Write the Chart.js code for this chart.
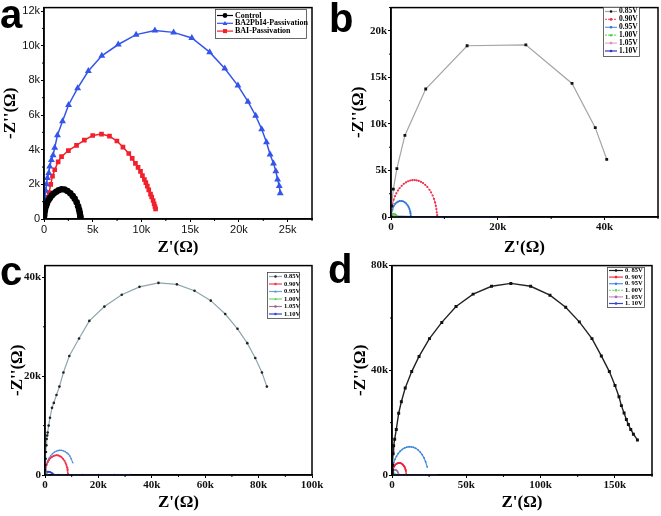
<!DOCTYPE html>
<html>
<head>
<meta charset="utf-8">
<script src="https://cdn.jsdelivr.net/npm/chart.js@4/dist/chart.umd.min.js"></script>
<style>
  body { margin: 0; background: #fff; width: 661px; height: 516px; position: relative; overflow: hidden; }
  canvas { position: absolute; }
  .tag { position: absolute; font: bold 40px "Liberation Sans", Arial, sans-serif; line-height: 40px; color: #000; z-index: 2; }
</style>
</head>
<body>
<canvas id="pa" width="330" height="258" style="left:0;top:0"></canvas>
<canvas id="pb" width="331" height="258" style="left:330px;top:0"></canvas>
<canvas id="pc" width="330" height="258" style="left:0;top:258px"></canvas>
<canvas id="pd" width="331" height="258" style="left:330px;top:258px"></canvas>
<div class="tag" style="left:0;top:-6px">a</div>
<div class="tag" style="left:329px;top:-2px">b</div>
<div class="tag" style="left:0;top:251px">c</div>
<div class="tag" style="left:328px;top:249px">d</div>
<script>
// all values in kΩ
const voltages = ['0.85V', '0.90V', '0.95V', '1.00V', '1.05V', '1.10V'];
const voltagesD = ['0. 85V', '0. 90V', '0. 95V', '1. 00V', '1. 05V', '1. 10V'];

// panel a
const aControlX = [0, 0.02, 0.05, 0.1, 0.2, 0.3, 0.45, 0.6, 0.8, 1.0, 1.25, 1.5, 1.8, 2.1, 2.4, 2.7, 2.95, 3.15, 3.35, 3.5, 3.6, 3.67, 3.72, 3.75];
const aControlY = [0, 0.2, 0.38, 0.53, 0.74, 0.9, 1.08, 1.21, 1.36, 1.47, 1.57, 1.66, 1.72, 1.7, 1.62, 1.48, 1.33, 1.17, 0.96, 0.74, 0.53, 0.36, 0.18, 0.05];
const aBA2X = [0, 0.02, 0.04, 0.07, 0.1, 0.18, 0.25, 0.35, 0.49, 0.59, 0.76, 0.93, 1.1, 1.38, 1.9, 2.52, 3.45, 4.55, 5.93, 7.62, 9.45, 11.38, 13.3, 15.17, 17.0, 18.55, 19.9, 20.93, 21.72, 22.34, 22.83, 23.2, 23.55, 23.79, 23.97, 24.14, 24.24];
const aBA2Y = [0, 0.1, 0.5, 0.88, 1.25, 1.63, 2.0, 2.37, 2.65, 3.03, 3.4, 3.68, 4.11, 4.84, 5.64, 6.58, 7.55, 8.54, 9.42, 10.07, 10.64, 10.88, 10.77, 10.45, 9.63, 8.69, 7.7, 6.77, 5.96, 5.18, 4.43, 3.72, 3.21, 2.75, 2.28, 1.91, 1.48];
const aBAIX = [0, 0.03, 0.08, 0.15, 0.25, 0.38, 0.52, 0.69, 0.87, 1.1, 1.45, 1.8, 2.5, 3.34, 4.14, 5.0, 5.9, 6.72, 7.48, 8.1, 8.7, 9.05, 9.38, 9.65, 9.9, 10.1, 10.3, 10.45, 10.6, 10.75, 10.93, 11.05, 11.2, 11.3, 11.38, 11.45];
const aBAIY = [0, 0.25, 0.5, 0.75, 1.0, 1.25, 1.53, 2.0, 2.47, 2.84, 3.3, 3.6, 3.95, 4.25, 4.55, 4.82, 4.9, 4.78, 4.5, 4.15, 3.78, 3.5, 3.21, 2.98, 2.75, 2.5, 2.28, 2.1, 1.9, 1.68, 1.44, 1.27, 1.07, 0.88, 0.72, 0.58];

// panel b
const b085X = [0, 0.1, 0.44, 1.1, 2.6, 6.5, 14.25, 25.25, 33.9, 38.25, 40.4];
const b085Y = [0, 1.2, 3.0, 5.2, 8.77, 13.75, 18.4, 18.5, 14.35, 9.6, 6.2];
const b090X = [0, 0.05, 0.15, 0.3, 0.5, 0.75, 1.0, 1.3, 1.6, 2.0, 2.4, 2.8, 3.2, 3.6, 4.0, 4.4, 4.8, 5.2, 5.6, 6.0, 6.4, 6.8, 7.2, 7.5, 7.8, 8.05, 8.25, 8.4, 8.5, 8.58, 8.65];
const b090Y = [0, 0.6, 1.04, 1.46, 1.86, 2.24, 2.54, 2.84, 3.09, 3.35, 3.56, 3.72, 3.84, 3.92, 3.96, 3.97, 3.94, 3.88, 3.78, 3.64, 3.46, 3.23, 2.93, 2.65, 2.31, 1.94, 1.57, 1.2, 0.85, 0.5, 0.2];
const b095X = [0, 0.03, 0.1, 0.2, 0.35, 0.55, 0.8, 1.05, 1.35, 1.65, 1.95, 2.25, 2.55, 2.85, 3.1, 3.3, 3.45, 3.57, 3.65, 3.7];
const b095Y = [0, 0.31, 0.56, 0.78, 1.01, 1.22, 1.42, 1.55, 1.66, 1.71, 1.72, 1.68, 1.59, 1.45, 1.27, 1.07, 0.86, 0.63, 0.4, 0.15];
const b100X = [0, 0.05, 0.15, 0.3, 0.5, 0.7, 0.9, 1.05, 1.15];
const b100Y = [0, 0.15, 0.25, 0.33, 0.36, 0.33, 0.25, 0.15, 0.05];
const b105X = [0, 0.05, 0.15, 0.3, 0.45, 0.6, 0.7];
const b105Y = [0, 0.1, 0.16, 0.18, 0.15, 0.08, 0.02];
const b110X = [0, 0.2, 0.5, 1, 2, 4, 7, 11, 16, 22];
const b110Y = [0, 0.06, 0.08, 0.07, 0.06, 0.05, 0.04, 0.04, 0.03, 0.03];

// panel c
const c085X = [0, 0.06, 0.125, 0.25, 0.37, 0.5, 0.62, 0.8, 1.0, 1.37, 1.87, 2.62, 3.3, 4.3, 5.4, 6.9, 9.1, 12.75, 16.6, 22.25, 28.75, 35.4, 42.5, 49.4, 56, 62.1, 67.5, 72.1, 75.75, 78.75, 81.25, 83.1];
const c085Y = [0, 1.0, 2.0, 3.3, 4.65, 6.0, 7.3, 8.0, 8.6, 10.0, 11.6, 13.6, 14.6, 16.2, 17.9, 20.75, 24.1, 27.65, 31.2, 34.1, 36.5, 38.1, 38.9, 38.6, 37.3, 35.3, 32.6, 29.6, 26.7, 23.7, 20.75, 17.9];
const c090X = [0, 0.1, 0.3, 0.6, 1.0, 1.5, 2.0, 2.6, 3.2, 3.8, 4.4, 5.0, 5.6, 6.2, 6.8, 7.3, 7.7, 8.0, 8.25, 8.45, 8.6];
const c090Y = [0, 0.86, 1.47, 2.04, 2.56, 3.03, 3.38, 3.67, 3.87, 3.97, 4.0, 3.95, 3.81, 3.59, 3.25, 2.87, 2.45, 2.04, 1.58, 1.05, 0.3];
const c095X = [0, 0.1, 0.3, 0.6, 1.0, 1.5, 2.1, 2.8, 3.5, 4.2, 4.9, 5.6, 6.3, 7.0, 7.6, 8.2, 8.8, 9.3, 9.8, 10.4];
const c095Y = [0, 0.93, 1.6, 2.23, 2.83, 3.38, 3.88, 4.3, 4.61, 4.82, 4.95, 5.0, 4.97, 4.87, 4.71, 4.49, 4.2, 3.85, 3.3, 2.5];
const c100X = [0, 0.1, 0.25, 0.45, 0.65, 0.85, 1.0];
const c100Y = [0, 0.2, 0.32, 0.35, 0.3, 0.18, 0.05];
const c105X = [0, 0.08, 0.2, 0.35, 0.5, 0.6];
const c105Y = [0, 0.12, 0.18, 0.17, 0.1, 0.03];
const c110X = [0, 0.1, 0.3, 0.6, 1.0, 1.4, 1.9, 2.4, 2.8, 3.2, 5, 9, 14, 20, 26, 32];
const c110Y = [0, 0.3, 0.5, 0.62, 0.66, 0.66, 0.6, 0.45, 0.3, 0.1, 0.06, 0.05, 0.05, 0.05, 0.05, 0.05];

// panel d
const d085X = [0, 0.1, 0.22, 0.45, 0.7, 1.1, 1.8, 2.9, 4.5, 6.3, 8.9, 13.26, 18.2, 25.2, 33.5, 43.1, 54.6, 67, 80, 93.3, 106.3, 116.9, 126.1, 134.6, 140.9, 146.3, 150.1, 152.8, 154.4, 156.2, 157.75, 159.1, 160.7, 162.5, 165.2];
const d085Y = [0, 0.8, 1.9, 3.7, 8.1, 11.2, 13.7, 17.4, 23.6, 28, 33.2, 39.5, 45.3, 52.1, 58.3, 64.4, 69.1, 72.1, 73.2, 72.1, 68.7, 64.1, 58.5, 52.1, 45.5, 39.5, 34.2, 29.9, 26.5, 23.7, 21.2, 19.3, 17.4, 15.6, 13.4];
const d090X = [0, 0.1, 0.3, 0.6, 1.0, 1.5, 2.1, 2.8, 3.5, 4.2, 4.9, 5.6, 6.3, 7.0, 7.6, 8.1, 8.6, 9.0, 9.3, 9.6];
const d090Y = [0, 0.94, 1.6, 2.23, 2.82, 3.35, 3.81, 4.19, 4.44, 4.57, 4.6, 4.54, 4.38, 4.1, 3.74, 3.35, 2.82, 2.23, 1.6, 0.2];
const d095X = [0, 0.2, 0.6, 1.2, 2.0, 3.0, 4.2, 5.5, 7.0, 8.5, 10.0, 11.5, 13.0, 14.5, 16.0, 17.5, 19.0, 20.3, 21.5, 22.6, 23.7];
const d095Y = [0, 1.96, 3.37, 4.71, 5.97, 7.14, 8.21, 9.08, 9.82, 10.33, 10.65, 10.79, 10.76, 10.56, 10.18, 9.6, 8.77, 7.8, 6.6, 5.06, 3.1];
const d100X = [0, 0.2, 0.5, 0.9, 1.3, 1.7, 2.0];
const d100Y = [0, 0.4, 0.7, 0.8, 0.7, 0.4, 0.1];
const d105X = [0, 0.2, 0.6, 1.1, 1.7, 2.3, 2.9, 3.5, 4.0, 4.5];
const d105Y = [0, 0.8, 1.3, 1.7, 1.95, 2.0, 1.85, 1.5, 1.0, 0.3];
const d110X = [0, 0.5, 1, 2, 4, 8, 14, 22, 30];
const d110Y = [0, 0.2, 0.25, 0.22, 0.18, 0.15, 0.12, 0.1, 0.1];

const kLabel = v => v === 0 ? '0' : v + 'k';

function marker(ctx, style, x, y, r, c) {
  ctx.fillStyle = c;
  ctx.beginPath();
  if (style === 'triangle') {
    ctx.moveTo(x, y - r); ctx.lineTo(x + r, y + r * 0.75); ctx.lineTo(x - r, y + r * 0.75); ctx.closePath();
  } else if (style === 'rect') {
    ctx.rect(x - r * 0.85, y - r * 0.85, r * 1.7, r * 1.7);
  } else {
    ctx.arc(x, y, r, 0, Math.PI * 2);
  }
  ctx.fill();
}

// box around plot area + minor ticks half way between labels
const framePlugin = {
  id: 'frame',
  afterDraw(chart) {
    const { ctx, chartArea: a } = chart;
    ctx.save();
    ctx.strokeStyle = '#000';
    ctx.lineWidth = 1;
    ['x', 'y'].forEach(id => {
      const s = chart.scales[id];
      const step = s.options.ticks.stepSize;
      for (let v = step / 2; v <= s.max + 1e-9; v += step) {
        const p = s.getPixelForValue(v);
        ctx.beginPath();
        if (id === 'x') { ctx.moveTo(p, a.bottom); ctx.lineTo(p, a.bottom + 2); }
        else { ctx.moveTo(a.left, p); ctx.lineTo(a.left - 2, p); }
        ctx.stroke();
      }
    });
    ctx.lineWidth = 1.5;
    ctx.strokeRect(a.left, a.top, a.right - a.left, a.bottom - a.top);
    ctx.restore();
  }
};

const legendPlugin = {
  id: 'boxLegend',
  afterDraw(chart, args, o) {
    const ctx = chart.ctx;
    ctx.save();
    ctx.fillStyle = '#fff';
    ctx.fillRect(o.x, o.y, o.w, o.h);
    ctx.strokeStyle = '#444';
    ctx.lineWidth = 0.8;
    ctx.strokeRect(o.x + 0.5, o.y + 0.5, o.w, o.h);
    ctx.font = o.font;
    ctx.textBaseline = 'middle';
    chart.data.datasets.forEach((d, i) => {
      const y = o.y0 + i * o.gap;
      const x0 = o.x + 2;
      ctx.strokeStyle = d.borderColor;
      ctx.lineWidth = 1.2;
      ctx.setLineDash(d.borderDash || []);
      ctx.beginPath(); ctx.moveTo(x0, y); ctx.lineTo(x0 + o.len, y); ctx.stroke();
      ctx.setLineDash([]);
      marker(ctx, d.pointStyle, x0 + o.len / 2, y, o.r, d.pointBackgroundColor);
      ctx.fillStyle = '#000';
      ctx.fillText(d.label, x0 + o.len + 2, y);
    });
    ctx.restore();
  }
};

function series(label, xs, ys, line, style, r, point, width, dash) {
  return {
    label,
    data: xs.map((x, i) => ({ x, y: ys[i] })),
    borderColor: line,
    borderWidth: width || 1.2,
    borderDash: dash,
    pointStyle: style,
    pointRadius: r,
    pointBackgroundColor: point || line,
    pointBorderColor: point || line,
    pointBorderWidth: 0,
    showLine: true,
    tension: 0
  };
}

function axis(max, step, title, pad, tickFont, size) {
  return {
    type: 'linear', min: 0, max,
    ticks: { stepSize: step, callback: kLabel, font: tickFont, color: '#111', padding: 1, maxRotation: 0, autoSkip: false },
    // labelled ticks only at whole steps, never at the odd axis end
    afterBuildTicks: s => {
      const t = [];
      for (let v = 0; v <= max + 1e-9; v += step) t.push({ value: Math.round(v * 1000) / 1000 });
      s.ticks = t;
    },
    afterFit: s => { if (s.isHorizontal()) s.height = size; else s.width = size; },
    grid: { drawOnChartArea: false, tickLength: 3, color: '#000', tickColor: '#000', tickWidth: 1 },
    border: { color: '#000', width: 1.5 },
    title: { display: true, text: title, color: '#000', padding: pad,
             font: { family: '"Liberation Serif", serif', weight: 'bold', size: 17 } }
  };
}

function panel(id, p) {
  const cv = document.getElementById(id);
  const [L, T, R, B] = p.area;
  new Chart(cv, {
    type: 'scatter',
    data: { datasets: p.datasets },
    options: {
      responsive: false,
      animation: false,
      layout: { autoPadding: false, padding: { top: T, right: cv.width - R, left: 0, bottom: 0 } },
      scales: {
        x: axis(p.xMax, p.xStep, "Z'(Ω)", { bottom: p.xPad }, p.tickFont, cv.height - B),
        y: axis(p.yMax, p.yStep, "-Z''(Ω)", { top: p.yPad }, p.tickFont, L)
      },
      plugins: { legend: { display: false }, tooltip: { enabled: false }, boxLegend: p.legend }
    },
    plugins: [framePlugin, legendPlugin]
  });
}

const sansTicks = { family: '"Liberation Sans", Arial, sans-serif', size: 11 };
const serifTicks = { family: '"Liberation Serif", serif', size: 11, weight: 'bold' };

panel('pa', {
  area: [44, 1, 312, 219], xMax: 27.5, xStep: 5, yMax: 12.2, yStep: 2, xPad: 0, yPad: 0, tickFont: sansTicks,
  datasets: [
    series('Control', aControlX, aControlY, '#000', 'circle', 3.3, '#000', 1.5),
    series('BA2PbI4-Passivation', aBA2X, aBA2Y, '#3555ea', 'triangle', 4, '#3555ea', 1.5),
    series('BAI-Passivation', aBAIX, aBAIY, '#f2202c', 'rect', 3.3, '#f2202c', 1.5)
  ],
  legend: { x: 215, y: 9, w: 91, h: 29, y0: 15.5, gap: 7.8, len: 16, r: 2.4, font: 'bold 8px "Liberation Serif", serif' }
});

panel('pb', {
  area: [61, 3, 328, 217], xMax: 50, xStep: 20, yMax: 22.5, yStep: 5, xPad: 0, yPad: 18, tickFont: serifTicks,
  datasets: [
    series(voltages[0], b085X, b085Y, '#a4a4a4', 'rect', 2, '#111', 1.2),
    series(voltages[1], b090X, b090Y, '#f46080', 'circle', 1.1, '#f0304c', 1, [2, 1]),
    series(voltages[2], b095X, b095Y, '#5a9ae4', 'circle', 1, '#2f74d2', 1.4),
    series(voltages[3], b100X, b100Y, '#70e070', 'circle', 1, '#50d050', 1.2, [2, 1]),
    series(voltages[4], b105X, b105Y, '#e8a8c8', 'circle', 0.8, '#d890b8', 1),
    series(voltages[5], b110X, b110Y, '#2a36c8', 'circle', 0, '#2a36c8', 1.3)
  ],
  legend: { x: 273, y: 7, w: 36, h: 49, y0: 11.5, gap: 7.9, len: 12, r: 1.3, font: 'bold 7.5px "Liberation Serif", serif' }
});

panel('pc', {
  area: [45, 4, 312, 217], xMax: 100, xStep: 20, yMax: 42.4, yStep: 20, xPad: 3, yPad: 7, tickFont: serifTicks,
  datasets: [
    series(voltages[0], c085X, c085Y, '#8ea6ae', 'circle', 1.3, '#222', 1.2),
    series(voltages[1], c090X, c090Y, '#f2405a', 'circle', 1, '#f0304c', 1.3),
    series(voltages[2], c095X, c095Y, '#6aa2e2', 'triangle', 1.2, '#4a88d8', 1.2),
    series(voltages[3], c100X, c100Y, '#70d870', 'triangle', 1, '#50c850', 1.2),
    series(voltages[4], c105X, c105Y, '#a87898', 'circle', 1, '#906080', 1),
    series(voltages[5], c110X, c110Y, '#2c44d6', 'circle', 1, '#2c44d6', 1.4)
  ],
  legend: { x: 267, y: 14, w: 32, h: 46, y0: 18.5, gap: 7.5, len: 13, r: 1.2, font: 'bold 6.5px "Liberation Serif", serif' }
});

panel('pd', {
  area: [62, 3, 322, 217], xMax: 175, xStep: 50, yMax: 80, yStep: 40, xPad: 3, yPad: 20, tickFont: serifTicks,
  datasets: [
    series(voltagesD[0], d085X, d085Y, '#222', 'rect', 2.1, '#111', 1.4),
    series(voltagesD[1], d090X, d090Y, '#f23448', 'circle', 1, '#f02038', 1.4),
    series(voltagesD[2], d095X, d095Y, '#4a90e2', 'circle', 0.9, '#3a80d8', 1.2),
    series(voltagesD[3], d100X, d100Y, '#88e088', 'circle', 1, '#66d066', 1.2, [2, 1]),
    series(voltagesD[4], d105X, d105Y, '#c890c8', 'circle', 1, '#a070b0', 1.2),
    series(voltagesD[5], d110X, d110Y, '#3444d0', 'circle', 0.8, '#3444d0', 1.3)
  ],
  legend: { x: 277, y: 9, w: 37, h: 40, y0: 12.5, gap: 6.6, len: 14, r: 1.3, font: 'bold 6.5px "Liberation Serif", serif' }
});
</script>
</body>
</html>
